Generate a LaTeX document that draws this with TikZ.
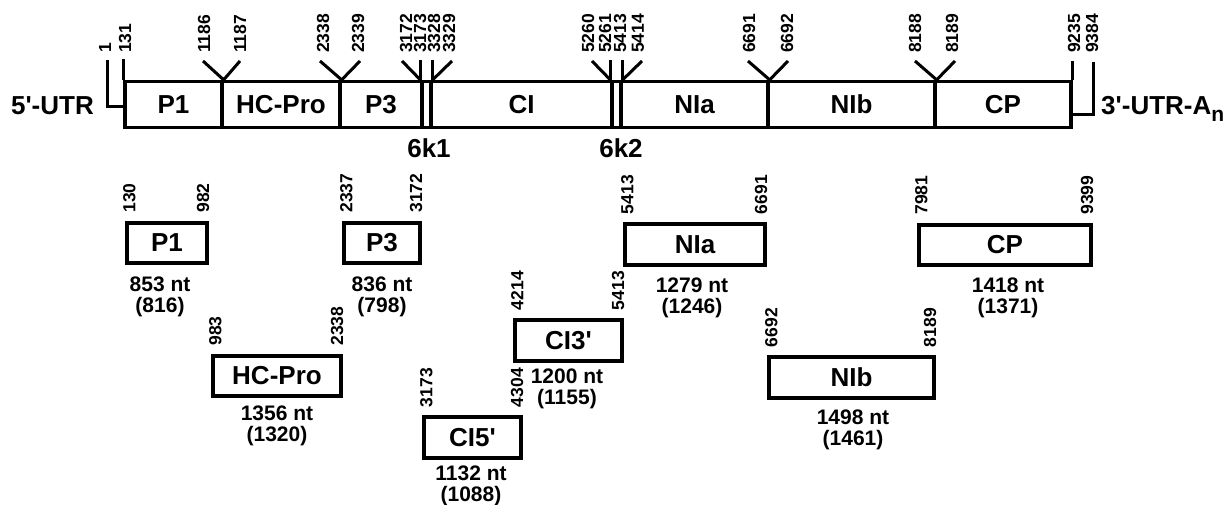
\documentclass[tikz,border=0pt]{standalone}
\usepackage{fontspec}
\setmainfont{Liberation Sans}[Ligatures=TeXOff]
\usetikzlibrary{calc}
\begin{document}
\begin{tikzpicture}[x=1pt,y=-1pt,
  seg/.style={draw, line width=3.3pt, minimum height=46pt, inner sep=0pt, font=\fontsize{26}{26}\selectfont\bfseries},
  gbox/.style={draw, line width=4pt, minimum height=40.5pt, inner sep=0pt, font=\fontsize{26}{26}\selectfont\bfseries},
  numlab/.style={rotate=90, inner sep=0pt, font=\fontsize{17.5}{17.5}\selectfont\bfseries},
  tnum/.style={numlab, anchor=west},
  lnum/.style={numlab, anchor=north west},
  rnum/.style={numlab, anchor=south west},
  info/.style={align=center, inner sep=0pt, font=\fontsize{21}{21.5}\selectfont\bfseries},
  biglab/.style={inner sep=0pt, font=\fontsize{26}{26}\selectfont\bfseries},
  arm/.style={line width=3pt}]
\useasboundingbox (0,0) rectangle (1229,505);
% genome segments
\node[seg, minimum width=97pt]  (gP1)  at (173.5,104.5) {P1};
\node[seg, minimum width=118pt] (gHC)  at (281,104.5)   {HC-Pro};
\node[seg, minimum width=82pt]  (gP3)  at (381,104.5)   {P3};
\node[seg, minimum width=9pt]   (g6k1) at (426.5,104.5) {};
\node[seg, minimum width=181pt] (gCI)  at (521.5,104.5) {CI};
\node[seg, minimum width=9pt]   (g6k2) at (616.5,104.5) {};
\node[seg, minimum width=147pt] (gNIa) at (694.5,104.5) {NIa};
\node[seg, minimum width=167pt] (gNIb) at (851.5,104.5) {NIb};
\node[seg, minimum width=136pt] (gCP)  at (1003,104.5)  {CP};
% cleavage-site arms
\coordinate (a1186) at (203,61);  \coordinate (a1187) at (240,61);
\coordinate (a2338) at (320,61);  \coordinate (a2339) at (360,61);
\coordinate (a3172) at (402,61);  \coordinate (a3329) at (452,61);
\coordinate (a5260) at (592,61);  \coordinate (a5414) at (642,61);
\coordinate (a6691) at (748,61);  \coordinate (a6692) at (788,61);
\coordinate (a8188) at (915,61);  \coordinate (a8189) at (955,61);
\draw[arm] (a1186) -- (gP1.north east) -- (a1187);
\draw[arm] (a2338) -- (gHC.north east) -- (a2339);
\draw[arm] (a3172) -- (g6k1.north west);
\draw[arm] (g6k1.north east) -- (a3329);
\draw[arm] (a5260) -- (g6k2.north west);
\draw[arm] (g6k2.north east) -- (a5414);
\draw[arm] (a6691) -- (gNIa.north east) -- (a6692);
\draw[arm] (a8188) -- (gNIb.north east) -- (a8189);
\draw[arm] (g6k1.north west) -- ++(0,-20);
\draw[arm] (g6k1.north east) -- ++(0,-20);
\draw[arm] (g6k2.north west) -- ++(0,-20);
\draw[arm] (g6k2.north east) -- ++(0,-20);
% UTR ends
\draw[arm] (gP1.north west) -- ++(0,-21);
\coordinate (u5) at (107,60);
\draw[arm] (u5) |- ([yshift=-2.5pt]gP1.west);
\draw[arm] (gCP.north east) -- ++(0,-19);
\coordinate (u3) at (1093,62);
\draw[arm] (u3) |- ([yshift=-10.5pt]gCP.east);
\node[biglab, anchor=base east] (l5) at (94,115) {5'-UTR};
\node[biglab, anchor=base west] (l3) at (1101,115) {3'-UTR-A\raisebox{-7pt}{\fontsize{21}{21}\selectfont n}};
\node[biglab] (l6k1) at (429,148) {6k1};
\node[biglab] (l6k2) at (621,148) {6k2};
% top numbers
\foreach \x/\t in {105/1,125/131,204/1186,240/1187,323/2338,358/2339,406/3172,420/3173,434/3328,449/3329,588/5260,605/5261,620/5413,638/5414,749/6691,787/6692,915/8188,952/8189,1074/9235,1092/9384}
  \node[tnum] at (\x,53) {\t};
% gene boxes
\node[gbox, minimum width=80pt]  (bP1)  at (167,243)     {P1};
\node[gbox, minimum width=76pt]  (bP3)  at (382,243)     {P3};
\node[gbox, minimum width=140pt] (bNIa) at (695,244.5)   {NIa};
\node[gbox, minimum width=172pt] (bCP)  at (1005,245)    {CP};
\node[gbox, minimum width=128pt] (bHC)  at (277,376)     {HC-Pro};
\node[gbox, minimum width=107pt] (bCI3) at (568.5,340.5) {CI3'};
\node[gbox, minimum width=97pt]  (bCI5) at (472.5,437.5) {CI5'};
\node[gbox, minimum width=165pt] (bNIb) at (851.5,377.5) {NIb};
% box end numbers
\foreach \b/\l/\r in {bP1/130/982, bP3/2337/3172, bNIa/5413/6691, bCP/7981/9399, bHC/983/2338, bCI3/4214/5413, bCI5/3173/4304, bNIb/6692/8189}{
  \node[lnum] at ($(\b.north west)+(-2,-8)$) {\l};
  \node[rnum] at ($(\b.north east)+(0.5,-8)$) {\r};
}
% sizes
\node[info] (iP1)  at (160,297)  {853 nt\\(816)};
\node[info] (iP3)  at (382,297)  {836 nt\\(798)};
\node[info] (iNIa) at (692,298)  {1279 nt\\(1246)};
\node[info] (iCP)  at (1008,298) {1418 nt\\(1371)};
\node[info] (iHC)  at (277,426)  {1356 nt\\(1320)};
\node[info] (iCI3) at (567,389)  {1200 nt\\(1155)};
\node[info] (iCI5) at (471,486)  {1132 nt\\(1088)};
\node[info] (iNIb) at (853,430)  {1498 nt\\(1461)};
\end{tikzpicture}
\end{document}
